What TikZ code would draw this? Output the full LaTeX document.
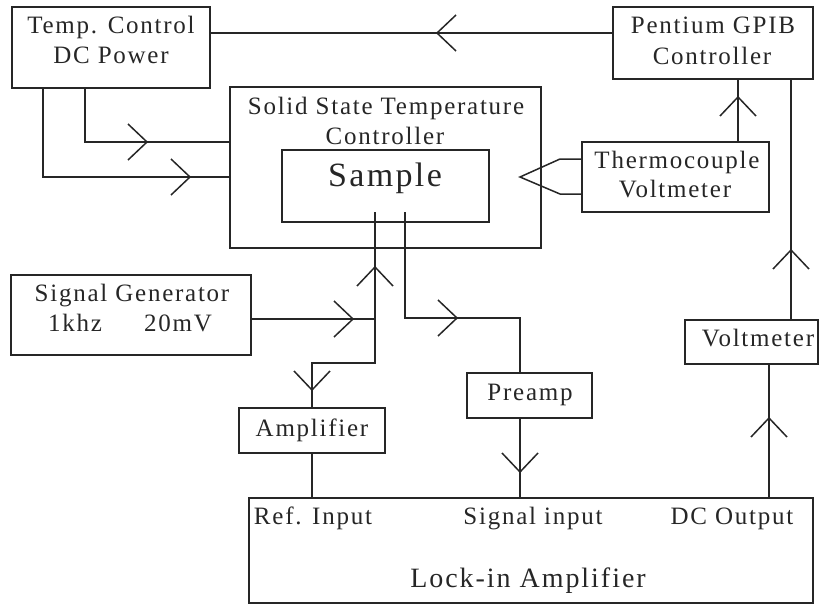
\documentclass[tikz,border=0pt]{standalone}
\usepackage{fontspec}
\setmainfont{Liberation Serif}[LetterSpace=7]
\usetikzlibrary{fit}
\definecolor{ink}{HTML}{262626}
\tikzset{
  box/.style={draw=ink, line width=1.5pt, inner sep=0pt, rectangle},
  wire/.style={draw=ink, line width=1.5pt},
  txt/.style={inner sep=0pt, anchor=base, text=ink, font=\fontsize{25}{30}\selectfont},
  lgtxt/.style={inner sep=0pt, anchor=base, text=ink, font=\fontsize{28}{33}\selectfont},
  bigtxt/.style={inner sep=0pt, anchor=base, text=ink, font=\fontsize{34}{40}\selectfont},
  chev/.pic={\draw[ink, line width=1.5pt] (-19,18) -- (0,0) -- (-19,-18);}
}
\begin{document}
\begin{tikzpicture}[x=1pt,y=-1pt]
\useasboundingbox (0,0) rectangle (820,605);
% boxes
\node[box, fit={(12,7) (210,88)}] (tc) {};
\node[box, fit={(613,7) (813,79)}] (pc) {};
\node[box, fit={(230,87) (541,248)}] (ss) {};
\node[box, fit={(282,150) (489,222)}] (sa) {};
\node[box, fit={(582,142) (769,212)}] (th) {};
\node[box, fit={(11,275) (251,355)}] (sg) {};
\node[box, fit={(239,408) (385,453)}] (am) {};
\node[box, fit={(467,373) (592,418)}] (pr) {};
\node[box, fit={(685,320) (818,364)}] (vm) {};
\node[box, fit={(249,498) (813,603)}] (li) {};
% texts
\node[txt] (t1) at (111,33) {Temp. Control};
\node[txt] (t2) at (111,63) {DC Power};
\node[txt] (t3) at (713,34) {Pentium GPIB};
\node[txt] (t4) at (712,64) {Controller};
\node[txt] (t5) at (386,114) {Solid State Temperature};
\node[txt] (t6) at (385,144) {Controller};
\node[bigtxt] (t7) at (385,186) {Sample};
\node[txt] (t8) at (677,168) {Thermocouple};
\node[txt] (t9) at (675,197) {Voltmeter};
\node[txt] (t10) at (132,301) {Signal Generator};
\node[txt] (t11) at (75,331) {1khz};
\node[txt] (t12) at (178,331) {20mV};
\node[txt] (t13) at (312,436) {Amplifier};
\node[txt] (t14) at (530,400) {Preamp};
\node[txt] (t15) at (758,346) {Voltmeter};
\node[txt] (t16) at (313,524) {Ref. Input};
\node[txt] (t17) at (533,524) {Signal input};
\node[txt] (t18) at (732,524) {DC Output};
\node[lgtxt] (t19) at (528,587) {Lock-in Amplifier};
% helper coordinates
\coordinate (h33) at (0,33);
\coordinate (k1) at (85,142);
\coordinate (k2) at (43,177);
\coordinate (xg) at (738,0);
\coordinate (xv) at (791,0);
\coordinate (xd) at (769,0);
\coordinate (p1) at (560,159);
\coordinate (p2) at (520,177);
\coordinate (p3) at (560,194);
\coordinate (s1) at (375,212);
\coordinate (s1b) at (312,363);
\coordinate (s2) at (405,212);
\coordinate (s2b) at (520,318);
\coordinate (g1) at (375,319);
% connectors
\draw[wire] (tc.east |- h33) -- (pc.west |- h33);
\draw[wire] (tc.south -| k1) |- (ss.west |- k1);
\draw[wire] (tc.south -| k2) |- (ss.west |- k2);
\draw[wire] (pc.south -| xg) -- (th.north -| xg);
\draw[wire] (th.west |- p1) -- (p1) -- (p2) -- (p3) -- (th.west |- p3);
\draw[wire] (pc.south -| xv) -- (vm.north -| xv);
\draw[wire] (vm.south -| xd) -- (li.north -| xd);
\draw[wire] (s1) |- (s1b) -- (am.north -| s1b);
\draw[wire] (sg.east |- g1) -- (g1);
\draw[wire] (s2) |- (s2b) -- (pr.north -| s2b);
\draw[wire] (pr.south -| s2b) -- (li.north -| s2b);
\draw[wire] (am.south -| s1b) -- (li.north -| s1b);
% chevrons
\path (437,33) pic[rotate=180] {chev};
\path (147,142) pic {chev};
\path (190,177) pic {chev};
\path (738,97) pic[rotate=90] {chev};
\path (791,250) pic[rotate=90] {chev};
\path (769,418) pic[rotate=90] {chev};
\path (375,267) pic[rotate=90] {chev};
\path (312,390) pic[rotate=-90] {chev};
\path (353,319) pic {chev};
\path (457,318) pic {chev};
\path (520,472) pic[rotate=-90] {chev};
\end{tikzpicture}
\end{document}
